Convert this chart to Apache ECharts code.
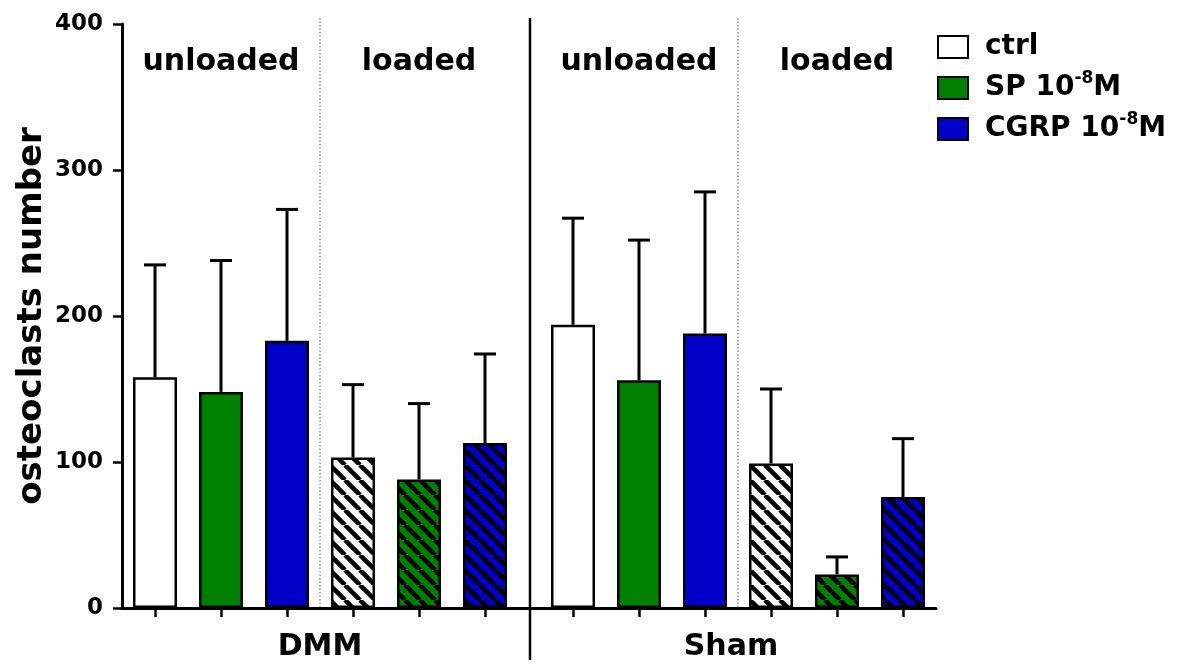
<!DOCTYPE html>
<html>
<head>
<meta charset="utf-8">
<script src="https://cdn.jsdelivr.net/npm/echarts@6/dist/echarts.min.js"></script>
<style>
  html, body { margin: 0; background: #fff; }
  #chart { width: 1183px; height: 664px; }
</style>
</head>
<body>
<div id="chart"></div>
<script>
// data
const groups = ['DMM', 'Sham'];
const conditions = ['unloaded', 'loaded'];
const treatments = ['ctrl', 'SP', 'CGRP'];
const barCategories = ['ctrl unloaded', 'SP unloaded', 'CGRP unloaded', 'ctrl loaded', 'SP loaded', 'CGRP loaded'];
const dmmMean = [158, 148, 183, 103, 88, 113];
const dmmSd = [77, 90, 90, 50, 52, 61];
const shamMean = [194, 156, 188, 99, 23, 76];
const shamSd = [73, 96, 97, 51, 12, 40];
const yTicks = [0, 100, 200, 300, 400];
const headingLevel = 374;

const FONT = 'DejaVu Sans';
const fills = ['#ffffff', '#008000', '#0000c8'];
const means = [dmmMean, shamMean];
const sds = [dmmSd, shamSd];

// layout
const gridTop = 24, gridBottom = 56, bandW = 66;
const gridLefts = [122, 540];
const gridW = bandW * barCategories.length;

// diagonal hatch for the "loaded" bars
function hatch(bg) {
  const s = 15;
  const c = document.createElement('canvas');
  c.width = c.height = s;
  const ctx = c.getContext('2d');
  ctx.fillStyle = bg;
  ctx.fillRect(0, 0, s, s);
  ctx.strokeStyle = '#000';
  ctx.lineWidth = 4.5;
  ctx.beginPath();
  ctx.moveTo(0, 0); ctx.lineTo(s, s);
  ctx.moveTo(s, 0); ctx.lineTo(2 * s, s);
  ctx.moveTo(-s, 0); ctx.lineTo(0, s);
  ctx.stroke();
  return c;
}
const patterns = fills.map(f => ({ image: hatch(f), repeat: 'repeat' }));

const chart = echarts.init(document.getElementById('chart'));

const grid = gridLefts.map(l => ({
  left: l, width: gridW, top: gridTop, bottom: gridBottom,
  containLabel: false, outerBoundsMode: 'none'
}));

const xAxis = groups.map((g, i) => ({
  type: 'category',
  gridIndex: i,
  data: barCategories,
  boundaryGap: true,
  axisLine: { lineStyle: { color: '#000', width: 3 } },
  axisTick: { show: true, interval: 0, alignWithLabel: true, length: 9, lineStyle: { color: '#000', width: 2.5 } },
  axisLabel: { show: true, interval: 0, formatter: () => '' },
  splitLine: { show: false },
  name: g,
  nameLocation: 'middle',
  nameGap: 24,
  nameTextStyle: {
    fontFamily: FONT, fontWeight: 'bold', fontSize: 30, color: '#000',
    padding: i === 1 ? [0, 14, 0, 0] : 0
  }
}));

const yAxis = groups.map((g, i) => ({
  type: 'value',
  gridIndex: i,
  show: i === 0,
  min: yTicks[0],
  max: yTicks[yTicks.length - 1],
  interval: yTicks[1] - yTicks[0],
  axisLine: { show: true, lineStyle: { color: '#000', width: 3 } },
  axisTick: { show: true, length: 9, lineStyle: { color: '#000', width: 2.5 } },
  axisLabel: { fontFamily: FONT, fontWeight: 'bold', fontSize: 23, color: '#000', margin: 19 },
  splitLine: { show: false },
  name: i === 0 ? 'osteoclasts number' : '',
  nameLocation: 'middle',
  nameGap: 73,
  nameTextStyle: { fontFamily: FONT, fontWeight: 'bold', fontSize: 34, color: '#000' }
}));

const series = [];
groups.forEach((g, gi) => {
  treatments.forEach((t, ti) => {
    series.push({
      type: 'bar',
      name: t,
      xAxisIndex: gi,
      yAxisIndex: gi,
      barWidth: 44,
      barGap: '-100%',
      itemStyle: { color: fills[ti], borderColor: '#000', borderWidth: 2.5 },
      data: barCategories.map((c, k) => {
        if (k % 3 !== ti) return '-';
        return k >= 3 ? { value: means[gi][k], itemStyle: { color: patterns[ti] } } : means[gi][k];
      })
    });
  });
  // error bars (upper only)
  series.push({
    type: 'custom',
    xAxisIndex: gi,
    yAxisIndex: gi,
    z: 3,
    silent: true,
    data: means[gi].map((m, k) => [k, m, m + sds[gi][k]]),
    encode: { x: 0, y: [1, 2] },
    renderItem: (params, api) => {
      const base = api.coord([api.value(0), api.value(1)]);
      const top = api.coord([api.value(0), api.value(2)]);
      return {
        type: 'group',
        children: [
          { type: 'line', shape: { x1: base[0], y1: base[1], x2: top[0], y2: top[1] }, style: { stroke: '#000', lineWidth: 3 } },
          { type: 'line', shape: { x1: top[0] - 11, y1: top[1], x2: top[0] + 11, y2: top[1] }, style: { stroke: '#000', lineWidth: 3 } }
        ]
      };
    }
  });
  // condition headings + dotted divider between unloaded and loaded
  series.push({
    type: 'custom',
    xAxisIndex: gi,
    yAxisIndex: gi,
    silent: true,
    data: conditions.map((c, i) => [1 + 3 * i, headingLevel, i]),
    renderItem: (params, api) => {
      const i = api.value(2);
      const p = api.coord([api.value(0), api.value(1)]);
      const children = [{
        type: 'text',
        x: p[0], y: p[1],
        style: { text: conditions[i], font: 'bold 30px "DejaVu Sans"', fill: '#000', align: 'center', verticalAlign: 'middle' }
      }];
      if (i === 1) {
        const a = api.coord([2, yTicks[yTicks.length - 1]]);
        const b = api.coord([3, yTicks[0]]);
        const x = (a[0] + b[0]) / 2;
        children.push({
          type: 'line',
          shape: { x1: x, y1: a[1] - 6, x2: x, y2: b[1] },
          style: { stroke: '#555', lineWidth: 1, lineDash: [1.5, 2] }
        });
      }
      return { type: 'group', children };
    }
  });
});

const divX = 530;
const axisY = 664 - gridBottom + 0.5;

chart.setOption({
  animation: false,
  backgroundColor: '#fff',
  grid,
  xAxis,
  yAxis,
  legend: {
    data: treatments,
    orient: 'vertical',
    left: 937,
    top: 33,
    padding: 0,
    icon: 'rect',
    itemWidth: 30,
    itemHeight: 22,
    itemGap: 9,
    selectedMode: false,
    formatter: n => n === 'ctrl' ? '{g|}{t|ctrl}' : '{g|}{t|' + n + ' 10}{s|-8}{t|M}',
    textStyle: {
      rich: {
        g: { width: 12 },
        t: { fontFamily: FONT, fontWeight: 'bold', fontSize: 28, color: '#000', lineHeight: 36 },
        s: { fontFamily: FONT, fontWeight: 'bold', fontSize: 17, color: '#000', lineHeight: 17, verticalAlign: 'top' }
      }
    }
  },
  series,
  graphic: [
    { type: 'line', z: 100, shape: { x1: gridLefts[0] + gridW - 2, y1: axisY, x2: gridLefts[1] + 2, y2: axisY }, style: { stroke: '#000', lineWidth: 3 } },
    { type: 'line', z: 100, shape: { x1: divX, y1: 18, x2: divX, y2: 660 }, style: { stroke: '#000', lineWidth: 2.5 } }
  ]
});
</script>
</body>
</html>
